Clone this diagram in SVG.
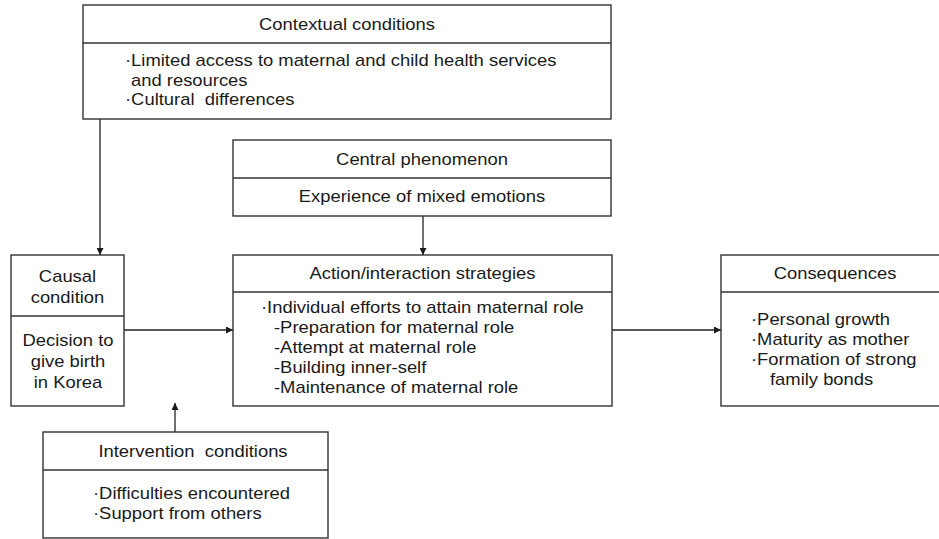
<svg xmlns="http://www.w3.org/2000/svg" width="939" height="539" viewBox="0 0 939 539">
  <style>
    .box { fill: #ffffff; stroke: #333333; stroke-width: 1.4; }
    .div { stroke: #333333; stroke-width: 1.4; }
    .t { font-family: "Liberation Sans", Arial, sans-serif; font-size: 16px; fill: #1a1a1a; white-space: pre; }
    .c { text-anchor: middle; }
    .edge { stroke: #222222; stroke-width: 1.3; fill: none; marker-end: url(#arrow); }
  </style>
  <defs>
    <marker id="arrow" viewBox="0 0 10 10" refX="10" refY="5" markerWidth="7" markerHeight="7" markerUnits="userSpaceOnUse" orient="auto">
      <path d="M0,0 L10,5 L0,10 z" fill="#1a1a1a"/>
    </marker>
  </defs>

  <rect width="939" height="539" fill="#ffffff"/>

  <!-- connectors -->
  <g id="connectors">
    <line class="edge" x1="100" y1="119" x2="100" y2="255"/>
    <line class="edge" x1="423" y1="216" x2="423" y2="255"/>
    <line class="edge" x1="124" y1="330" x2="233" y2="330"/>
    <line class="edge" x1="612" y1="330" x2="721" y2="330"/>
    <line class="edge" x1="175" y1="432" x2="175" y2="403"/>
  </g>

  <!-- contextual conditions -->
  <g id="contextual">
    <rect class="box" x="83" y="5" width="528" height="114"/>
    <line class="div" x1="83" y1="43" x2="611" y2="43"/>
    <text class="t c" transform="matrix(1.15 0 0 1 347 30)">Contextual conditions</text>
    <text class="t" transform="matrix(1.15 0 0 1 125 66)">·Limited access to maternal and child health services</text>
    <text class="t" transform="matrix(1.15 0 0 1 131 86)">and resources</text>
    <text class="t" xml:space="preserve" transform="matrix(1.15 0 0 1 125 105)">·Cultural  differences</text>
  </g>

  <!-- central phenomenon -->
  <g id="central">
    <rect class="box" x="233" y="140" width="378" height="76"/>
    <line class="div" x1="233" y1="178" x2="611" y2="178"/>
    <text class="t c" transform="matrix(1.15 0 0 1 422 165)">Central phenomenon</text>
    <text class="t c" transform="matrix(1.15 0 0 1 422 202)">Experience of mixed emotions</text>
  </g>

  <!-- causal condition -->
  <g id="causal">
    <rect class="box" x="11" y="255" width="113" height="151"/>
    <line class="div" x1="11" y1="316" x2="124" y2="316"/>
    <text class="t c" transform="matrix(1.15 0 0 1 67.5 282)">Causal</text>
    <text class="t c" transform="matrix(1.15 0 0 1 67.5 303)">condition</text>
    <text class="t c" transform="matrix(1.15 0 0 1 68 346)">Decision to</text>
    <text class="t c" transform="matrix(1.15 0 0 1 68 367)">give birth</text>
    <text class="t c" transform="matrix(1.15 0 0 1 68 388)">in Korea</text>
  </g>

  <!-- action/interaction strategies -->
  <g id="action">
    <rect class="box" x="233" y="255" width="379" height="151"/>
    <line class="div" x1="233" y1="292" x2="612" y2="292"/>
    <text class="t c" transform="matrix(1.15 0 0 1 422.5 279)">Action/interaction strategies</text>
    <text class="t" transform="matrix(1.15 0 0 1 261 313)">·Individual efforts to attain maternal role</text>
    <text class="t" transform="matrix(1.15 0 0 1 274 333)">-Preparation for maternal role</text>
    <text class="t" transform="matrix(1.15 0 0 1 274 353)">-Attempt at maternal role</text>
    <text class="t" transform="matrix(1.15 0 0 1 274 373)">-Building inner-self</text>
    <text class="t" transform="matrix(1.15 0 0 1 274 393)">-Maintenance of maternal role</text>
  </g>

  <!-- consequences -->
  <g id="consequences">
    <rect class="box" x="721" y="255" width="228" height="151"/>
    <line class="div" x1="721" y1="292" x2="949" y2="292"/>
    <text class="t c" transform="matrix(1.15 0 0 1 835 279)">Consequences</text>
    <text class="t" transform="matrix(1.15 0 0 1 751 325)">·Personal growth</text>
    <text class="t" transform="matrix(1.15 0 0 1 751 345)">·Maturity as mother</text>
    <text class="t" transform="matrix(1.15 0 0 1 751 365)">·Formation of strong</text>
    <text class="t" transform="matrix(1.15 0 0 1 770 385)">family bonds</text>
  </g>

  <!-- intervention conditions -->
  <g id="intervention">
    <rect class="box" x="43" y="432" width="285" height="106"/>
    <line class="div" x1="43" y1="470" x2="328" y2="470"/>
    <text class="t c" xml:space="preserve" transform="matrix(1.15 0 0 1 193 457)">Intervention  conditions</text>
    <text class="t" transform="matrix(1.15 0 0 1 93 499)">·Difficulties encountered</text>
    <text class="t" transform="matrix(1.15 0 0 1 93 519)">·Support from others</text>
  </g>
</svg>
